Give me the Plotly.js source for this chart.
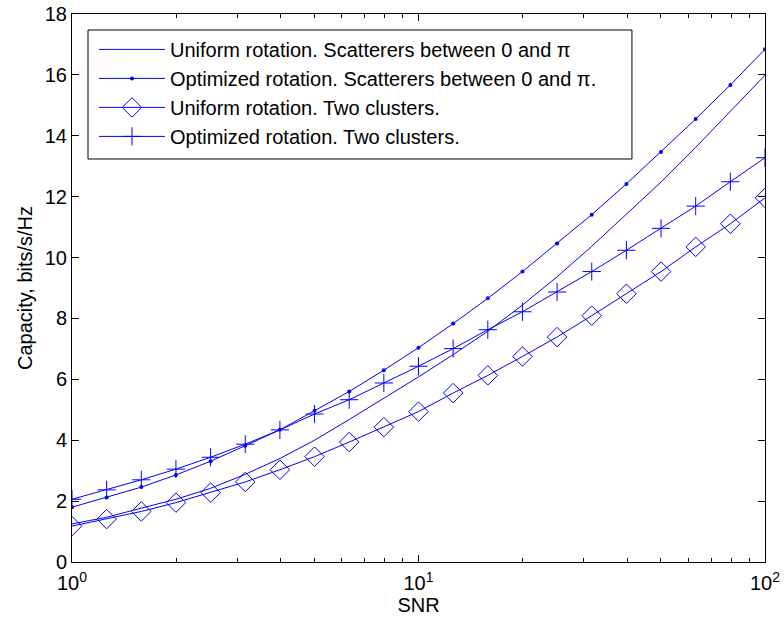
<!DOCTYPE html>
<html>
<head>
<meta charset="utf-8">
<script src="https://cdn.plot.ly/plotly-3.0.1.min.js"></script>
<style>html,body{margin:0;padding:0;background:#fff;}#chart{width:784px;height:627px;}</style>
</head>
<body>
<div id="chart"></div>
<script>
// SNR points (linear), 10^(k/10)
const snr = [1, 1.2589, 1.5849, 1.9953, 2.5119, 3.1623, 3.9811, 5.0119, 6.3096, 7.9433, 10,
             12.589, 15.849, 19.953, 25.119, 31.623, 39.811, 50.119, 63.096, 79.433, 100];
const uniformScatter = [1.25, 1.47, 1.77, 2.06, 2.42, 2.88, 3.40, 4.00, 4.68, 5.38, 6.08,
                        6.81, 7.58, 8.44, 9.37, 10.37, 11.41, 12.48, 13.62, 14.80, 15.99];
const optimizedScatter = [1.80, 2.12, 2.46, 2.86, 3.31, 3.82, 4.34, 4.97, 5.60, 6.30, 7.04,
                          7.83, 8.66, 9.54, 10.46, 11.41, 12.42, 13.47, 14.55, 15.67, 16.84];
const uniformClusters = [1.18, 1.41, 1.66, 1.95, 2.28, 2.63, 3.03, 3.46, 3.94, 4.43, 4.94,
                         5.55, 6.13, 6.75, 7.39, 8.09, 8.81, 9.54, 10.35, 11.11, 11.96];
const optimizedClusters = [2.06, 2.37, 2.70, 3.05, 3.44, 3.87, 4.34, 4.86, 5.33, 5.88, 6.43,
                           7.01, 7.63, 8.22, 8.87, 9.54, 10.24, 10.96, 11.69, 12.49, 13.28];
const seriesNames = [
  'Uniform rotation. Scatterers between 0 and \u03c0',
  'Optimized rotation. Scatterers between 0 and \u03c0.',
  'Uniform rotation. Two clusters.',
  'Optimized rotation. Two clusters.'
];
const xTickVals = [1, 10, 100];
const xTickText = ['10<sup>0</sup>', '10<sup>1</sup>', '10<sup>2</sup>'];
const xMinorVals = [2, 3, 4, 5, 6, 7, 8, 9, 20, 30, 40, 50, 60, 70, 80, 90];
const yTickVals = [0, 2, 4, 6, 8, 10, 12, 14, 16, 18];

const blue = 'rgb(0,0,255)';
const traces = [
  {x: snr, y: uniformScatter, name: seriesNames[0], mode: 'lines', line: {color: blue, width: 1}},
  {x: snr, y: optimizedScatter, name: seriesNames[1], mode: 'lines+markers', line: {color: blue, width: 1},
   marker: {symbol: 'circle', size: 4, color: blue}},
  {x: snr, y: uniformClusters, name: seriesNames[2], mode: 'lines+markers', line: {color: blue, width: 1},
   marker: {symbol: 'diamond-open', size: 15, color: blue, line: {width: 1, color: blue}}},
  {x: snr, y: optimizedClusters, name: seriesNames[3], mode: 'lines+markers', line: {color: blue, width: 1},
   marker: {symbol: 'cross-thin-open', size: 13, color: blue, line: {width: 1, color: blue}}}
];

const fam = 'Liberation Sans, Arial, sans-serif';
const layout = {
  width: 784, height: 627,
  margin: {l: 72, r: 19, t: 14, b: 65},
  paper_bgcolor: '#fff', plot_bgcolor: '#fff',
  font: {family: fam, size: 20, color: '#000'},
  showlegend: true,
  legend: {x: 0.0317, y: 0.971, xanchor: 'left', yanchor: 'top', bgcolor: 'rgba(0,0,0,0)',
           borderwidth: 0, font: {family: fam, size: 20, color: '#000'},
           tracegroupgap: 0, itemwidth: 66},
  shapes: [
    {type: 'rect', xref: 'paper', yref: 'paper', x0: 0.0231, x1: 0.808, y0: 0.7354, y1: 0.9708,
     fillcolor: '#fff', line: {color: '#000', width: 1}, layer: 'above'}
  ],
  xaxis: {
    type: 'log', range: [0, 2], tickmode: 'array', tickvals: xTickVals, ticktext: xTickText,
    ticks: 'inside', ticklen: 7, tickcolor: '#000', showgrid: false, zeroline: false,
    showline: true, linecolor: '#000', linewidth: 1, mirror: 'ticks',
    minor: {ticks: 'inside', ticklen: 4, tickcolor: '#000', tickmode: 'array', tickvals: xMinorVals, showgrid: false},
    tickfont: {family: fam, size: 20, color: '#000'}, ticklabelstandoff: 3,
    title: {text: 'SNR', font: {family: fam, size: 20, color: '#000'}, standoff: 0}
  },
  yaxis: {
    range: [0, 18], tickmode: 'array', tickvals: yTickVals,
    ticks: 'inside', ticklen: 7, tickcolor: '#000', showgrid: false, zeroline: false,
    showline: true, linecolor: '#000', linewidth: 1, mirror: 'ticks',
    tickfont: {family: fam, size: 20, color: '#000'},
    title: {text: 'Capacity, bits/s/Hz', font: {family: fam, size: 20, color: '#000'}, standoff: 6}
  }
};
Plotly.newPlot('chart', traces, layout, {displayModeBar: false, staticPlot: true});
</script>
</body>
</html>
